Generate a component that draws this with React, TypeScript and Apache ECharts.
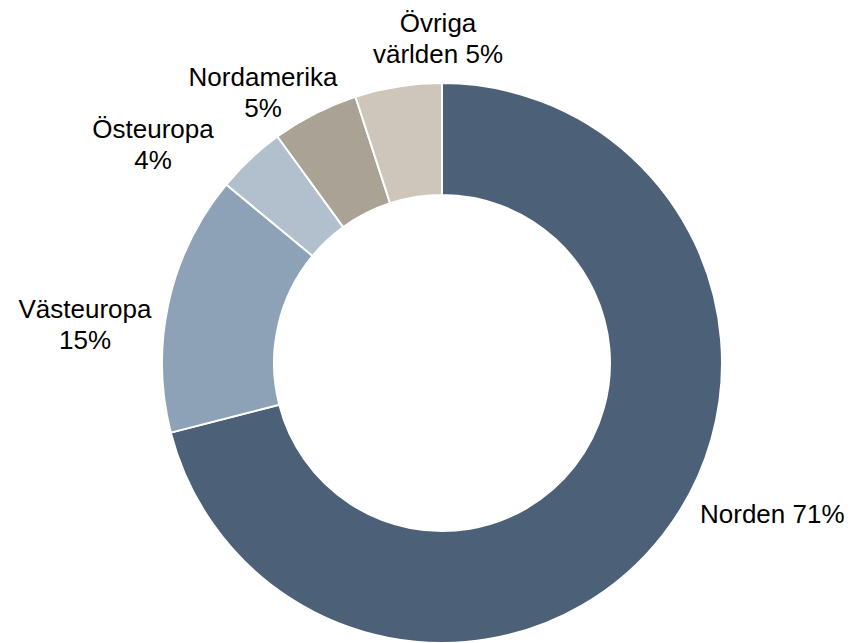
import React, { useEffect, useRef } from "react";
import * as echarts from "echarts";

const categories = ["Norden", "Västeuropa", "Östeuropa", "Nordamerika", "Övriga världen"];
const values = [71, 15, 4, 5, 5];
const labelTexts = ["Norden ", "Västeuropa\n", "Östeuropa\n", "Nordamerika\n", "Övriga\nvärlden "];
const colors = ["#4C6078", "#8DA2B6", "#B2C0CE", "#A9A295", "#CEC6BA"];

const labelPos: { x: number; y: number; align: string }[] = [
  { x: 700, y: 514, align: "left" },
  { x: 85, y: 324, align: "center" },
  { x: 153, y: 144, align: "center" },
  { x: 263, y: 92, align: "center" },
  { x: 438, y: 38, align: "center" },
];

export default function App() {
  const ref = useRef<HTMLDivElement>(null);
  useEffect(() => {
    if (!ref.current) return;
    const chart = echarts.init(ref.current, null, { renderer: "svg" });
    chart.setOption({
      animation: false,
      series: [
        {
          type: "pie",
          center: [442, 363],
          radius: [168, 280],
          startAngle: 90,
          clockwise: true,
          avoidLabelOverlap: false,
          emphasis: { disabled: true },
          itemStyle: { borderColor: "#ffffff", borderWidth: 2 },
          label: {
            show: true,
            position: "outside",
            color: "#000000",
            fontFamily: "Liberation Sans, Arial, sans-serif",
            fontSize: 26,
            lineHeight: 31,
            formatter: (p: any) => `${labelTexts[p.dataIndex]}${p.value}%`,
          },
          labelLine: { show: false },
          labelLayout: (p: any) => {
            const lp = labelPos[p.dataIndex];
            return { x: lp.x, y: lp.y, align: lp.align, verticalAlign: "middle" };
          },
          data: categories.map((name, i) => ({
            name,
            value: values[i],
            itemStyle: { color: colors[i] },
          })),
        },
      ],
    });
    return () => chart.dispose();
  }, []);
  return (
    <div
      ref={ref}
      style={{ position: "absolute", left: 0, top: 0, width: 864, height: 643, background: "#ffffff" }}
    />
  );
}
